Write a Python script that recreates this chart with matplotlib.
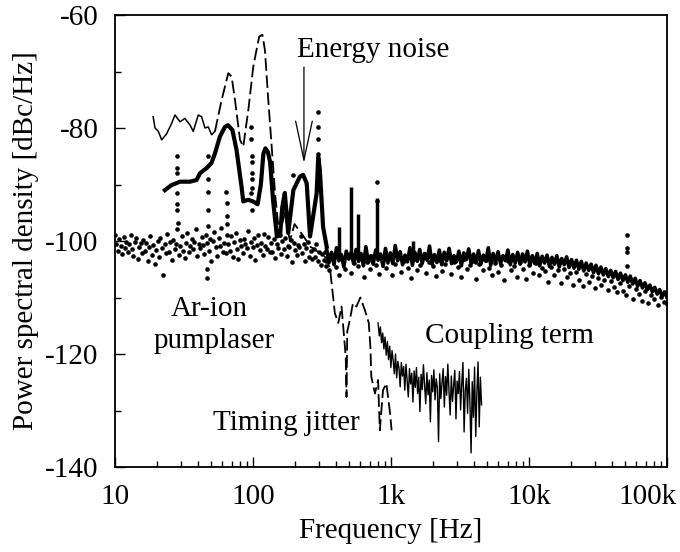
import numpy as np
import matplotlib
matplotlib.use("Agg")
from matplotlib import pyplot as plt
from matplotlib.ticker import FixedLocator, NullFormatter
from matplotlib.transforms import ScaledTranslation

plt.rcParams['font.family'] = ['Liberation Serif', 'DejaVu Serif']
plt.rcParams['axes.unicode_minus'] = False

# timing jitter: thin solid start, then dashed
jit_f_a = [18.9, 19.5, 20.6, 21.8, 23.7, 25.7, 27.2, 29.6, 32.1, 35.0, 36.9, 40.1, 42.4, 44.9, 47.4, 50.1, 53.0]
jit_a = [-78.0, -80.0, -80.6, -82.1, -81.0, -79.2, -77.7, -78.9, -78.3, -79.5, -80.6, -77.7, -78.0, -80.0, -79.8, -81.2, -80.6]
jit_f_b = [53.0, 59.3, 66.2, 70.0, 74.0, 80.5, 85.0, 92.5, 100.5, 106, 111, 117, 122, 129, 136, 145, 155, 170,
           185, 200, 230, 260, 300, 340, 362, 392, 415, 438, 470, 476, 482, 503, 530, 562, 600, 646, 690, 709,
           720, 765, 806, 830, 875, 925, 985, 1010]
jit_b = [-80.6, -75.0, -70.3, -70.9, -75.0, -82.1, -83.3, -76.8, -69.1, -66.2, -63.8, -63.5, -66.2, -75.0, -82.7,
         -92.0, -99.0, -95.0, -100.0, -97.0, -99.0, -101.0, -102.0, -103.0, -105.0, -112.8, -114.5, -111.6, -120.5,
         -127.6, -116.0, -114.0, -111.0, -111.6, -110.0, -112.2, -114.5, -118.7, -124.0, -127.0, -124.6, -133.5,
         -126.4, -125.2, -130.5, -133.5]

# energy noise (thick curve), low frequency part
en_f = [23.0, 25.7, 29.6, 35, 39, 41.3, 46.1, 50, 53, 57.6, 62.6, 66, 71, 76, 82.6, 85, 92, 100, 108, 114, 119,
        123, 128, 133, 140, 149, 157, 163, 170, 180, 196, 219, 231, 245, 259, 289, 297, 305, 322, 342]
en = [-91.0, -90.1, -89.5, -89.5, -89.2, -88.0, -87.1, -86.2, -84.5, -81.5, -79.8, -79.5, -80.4, -83.9, -90.4,
      -93.0, -92.7, -93.0, -93.5, -90.0, -84.5, -83.6, -84.2, -86.0, -93.0, -99.2, -99.0, -94.0, -91.5, -98.6,
      -91.0, -88.6, -88.3, -89.8, -99.2, -91.6, -85.1, -87.4, -97.5, -101.0]

# energy noise, 342 Hz .. 100 kHz band
band = [-101.5, -103.8, -102.0, -104.2, -101.2, -103.5, -102.4, -104.6, -101.8, -103.2,
        -102.0, -104.0, -101.5, -103.6, -102.2, -104.4, -101.0, -103.8, -102.6, -104.1,
        -101.6, -103.4, -102.3, -104.5, -101.3, -103.9, -102.1, -104.0, -100.8, -103.5,
        -101.9, -104.2, -102.5, -103.7, -101.2, -104.3, -102.0, -103.6, -101.5, -104.0,
        -102.2, -103.4, -100.9, -104.1, -102.4, -103.8, -101.6, -104.2, -102.0, -103.5,
        -101.3, -104.0, -102.6, -103.7, -101.8, -104.4, -102.1, -103.3, -101.4, -104.0,
        -102.3, -103.9, -101.7, -104.1, -102.5, -103.6, -101.2, -104.3, -102.2, -103.8,
        -101.9, -104.0, -102.6, -103.5, -101.6, -104.2, -102.4, -103.9, -102.0, -104.1,
        -102.3, -103.7, -101.8, -104.3, -102.6, -104.0, -102.2, -104.4, -102.7, -103.9,
        -102.5, -104.5, -102.9, -104.1, -102.6, -104.6, -103.1, -104.2, -102.8, -104.7,
        -103.3, -104.8, -103.4, -105.0, -103.6, -105.3, -103.9, -105.2, -104.1, -105.6,
        -104.3, -105.8, -104.6, -106.0, -104.9, -106.3, -105.2, -106.5, -105.4, -106.8,
        -105.7, -107.0, -106.0, -107.3, -106.2, -107.6, -106.6, -108.0, -107.0, -108.3,
        -107.4, -108.6, -107.8, -109.0, -108.2, -109.4, -108.6, -109.8, -109.0, -110.0]
band_f = np.geomspace(342, 1e5, len(band))

spike_f = [420, 515, 580, 787, 1450]
spike_top = [-97.5, -90.4, -95.2, -92.4, -100.0]

# coupling term
coup = [-114.5, -116.8, -115.2, -118.0, -116.3, -119.1, -117.0, -120.2, -117.8, -121.0,
        -118.6, -122.4, -119.4, -121.1, -123.5, -120.0, -124.2, -121.3, -122.5, -125.8,
        -121.5, -123.9, -122.2, -126.4, -121.8, -124.7, -127.6, -122.6, -125.3, -123.4,
        -128.5, -123.0, -125.9, -122.4, -127.0, -124.1, -130.2, -123.6, -126.3, -121.9,
        -125.5, -128.8, -123.3, -127.2, -124.6, -132.0, -123.8, -126.7, -122.8, -128.1,
        -124.4, -126.0, -135.5, -123.5, -127.9, -125.1, -122.6, -129.4, -124.0, -127.3,
        -121.8, -126.5, -130.8, -123.9, -128.4, -125.6, -122.9, -131.5, -124.8, -127.0,
        -123.1, -129.9, -125.2, -121.5, -133.8, -126.4, -124.3, -130.5, -122.7, -128.6,
        -137.5, -124.9, -131.2, -122.3, -134.6, -126.8, -121.4, -132.9, -124.1, -129.0]
coup_f = np.geomspace(806, 4530, len(coup))

# Ar-ion pump laser (dots)
dots_lo = [-99.0, -100.5, -101.8, -99.6, -100.9, -102.3, -99.3, -101.2, -100.1, -102.0,
           -100.6, -98.9, -101.5, -102.6, -100.2, -99.5, -103.1, -101.0, -100.4, -102.2,
           -99.8, -101.7, -100.3, -103.5, -101.1, -99.2, -102.4, -100.7, -104.0, -101.6,
           -100.0, -102.8, -99.4, -101.3, -106.0, -100.6, -102.1, -98.7, -101.9, -100.2,
           -103.3, -99.9, -101.4, -100.5, -97.8, -102.5, -100.8, -99.1, -101.7, -103.0,
           -100.3, -98.5, -102.0, -100.9, -99.6, -101.5, -100.1, -97.9, -102.7, -100.6,
           -101.2, -99.3, -100.7, -102.3, -98.9, -100.4, -101.8, -99.7, -103.6, -100.0,
           -98.4, -101.1, -102.6, -99.5, -100.8, -97.7, -101.9, -100.3, -102.2, -99.0,
           -100.6, -101.7, -99.2, -102.9, -100.1, -98.6, -101.4, -103.2, -99.8, -100.9,
           -102.1, -99.6, -100.5, -101.3, -98.3, -102.6, -100.2, -101.0, -99.4, -103.4,
           -100.7, -99.0, -101.6, -100.3, -102.4, -98.8, -100.9, -101.5, -99.3, -102.0,
           -100.4, -101.9, -99.7, -103.0, -100.6, -101.2, -98.9, -102.3, -100.0, -101.4,
           -99.5, -102.7, -100.8, -101.1, -99.9, -103.8, -100.3, -101.6, -102.5, -100.7,
           -101.0, -99.2, -102.2, -100.5, -103.5, -101.3, -100.1, -102.8, -101.7, -103.1,
           -101.4, -102.9, -100.6, -103.6, -101.9, -104.2, -102.3, -103.4, -102.0, -104.5]
dots_lo_f = np.geomspace(10, 340, len(dots_lo))

dots_hi = [-103.5, -105.2, -102.8, -104.6, -106.0, -103.1, -104.9, -102.5, -105.6, -103.9,
           -104.4, -102.9, -106.3, -103.7, -105.0, -102.6, -104.2, -105.8, -103.3, -104.7,
           -103.0, -106.1, -104.0, -102.7, -105.4, -103.6, -104.8, -106.6, -103.2, -105.1,
           -104.3, -102.9, -105.7, -103.8, -104.5, -106.2, -103.4, -105.3, -104.1, -102.8,
           -105.9, -103.7, -104.6, -106.4, -103.1, -105.0, -104.2, -103.5, -106.8, -104.0,
           -105.2, -103.3, -104.7, -106.0, -103.9, -105.5, -104.3, -106.9, -103.6, -105.1,
           -104.5, -106.3, -103.8, -105.0, -106.7, -104.2, -105.6, -103.9, -106.1, -104.8,
           -105.3, -107.2, -104.6, -106.0, -105.1, -107.5, -104.9, -106.4, -105.7, -107.8,
           -105.5, -106.9, -108.0, -105.9, -107.3, -106.2, -108.4, -106.6, -107.7, -106.9,
           -108.6, -107.1, -108.2, -109.0, -107.5, -108.8, -109.5, -107.9, -110.2, -108.5,
           -109.3, -110.6, -108.9, -111.0, -109.6, -110.3, -111.4, -109.9, -110.8, -111.2]
dots_hi_f = np.geomspace(340, 1e5, len(dots_hi))

col_f = [28, 28, 28, 28.2, 28.2, 28, 28.5,
         47, 47, 47.4, 47.4, 47, 46.5, 46.5,
         64, 64.4, 64.4, 65,
         97, 97.5, 97.8, 98, 98, 97.8, 98.2, 97.5, 98,
         196, 297, 297, 298, 298, 299, 299,
         787, 787, 51000, 51000, 51000, 51000]
col_v = [-85.0, -87.1, -88.0, -91.5, -93.5, -94.6, -96.8,
         -85.0, -89.0, -91.3, -94.5, -97.3, -105.0, -106.6,
         -91.3, -93.3, -95.5, -97.0,
         -79.8, -82.0, -85.0, -86.0, -88.0, -89.0, -90.6, -91.5, -94.5,
         -88.4, -77.1, -79.8, -82.0, -84.6, -88.0, -91.0,
         -89.5, -93.0, -98.9, -101.3, -102.0, -104.5]

xticks = [10, 100, 1e3, 1e4, 1e5]
xlabels = ['10', '100', '1k', '10k', '100k']
yticks = [-140, -120, -100, -80, -60]

fig = plt.figure(figsize=(6.8, 5.52), dpi=100)
ax = fig.add_axes([115 / 680, 85 / 552, 552 / 680, 452 / 552])

ax.plot(jit_f_a, jit_a, '-', color='k', lw=1.1)
ax.plot(jit_f_b, jit_b, color='k', lw=1.3, linestyle=(0, (7, 2.5)))
ax.plot(en_f, en, '-', color='k', lw=3.0)
ax.plot(band_f, band, '-', color='k', lw=2.6)
ax.vlines(spike_f, -103, spike_top, color='k', lw=2.5)
ax.plot(coup_f, coup, '-', color='k', lw=1.0)
ax.plot(dots_lo_f, dots_lo, 'o', color='k', ms=3.3, mew=0)
ax.plot(dots_hi_f, dots_hi, 'o', color='k', ms=3.3, mew=0)
ax.plot(col_f, col_v, 'o', color='k', ms=3.3, mew=0)

ax.set_xscale('log')
ax.set_xlim(10, 1e5)
ax.set_ylim(-140, -60)
ax.xaxis.set_major_locator(FixedLocator(xticks))
ax.set_xticklabels(xlabels)
ax.xaxis.set_minor_formatter(NullFormatter())
ax.set_yticks(yticks)
ax.set_yticklabels([str(v) for v in yticks])
ax.set_yticks([-130, -110, -90, -70], minor=True)
ax.tick_params(which='major', direction='in', length=7, width=1, labelsize=21)
ax.tick_params(which='minor', direction='in', length=4, width=1)
ax.tick_params(axis='x', which='both', pad=12)
ax.tick_params(axis='y', which='both', pad=12)
for s in ax.spines.values():
    s.set_linewidth(1.3)

# last x label sits against the right edge in the original
last = ax.get_xticklabels()[-1]
last.set_transform(last.get_transform() + ScaledTranslation(-14 / 72, 0, fig.dpi_scale_trans))

ax.set_xlabel('Frequency [Hz]', fontsize=21, labelpad=6)
ax.set_ylabel('Power spectral density [dBc/Hz]', fontsize=21, labelpad=4)

ax.text(208, -67.4, 'Energy noise', fontsize=21, va='baseline', ha='left')
ax.text(48, -113.3, 'Ar-ion', fontsize=21, va='baseline', ha='center')
ax.text(52, -118.9, 'pumplaser', fontsize=21, va='baseline', ha='center')
ax.text(1762, -118.05, 'Coupling term', fontsize=21, va='baseline', ha='left')
ax.text(596, -133.45, 'Timing jitter', fontsize=21, va='baseline', ha='right')
ax.annotate('', xy=(234, -86.2), xytext=(234, -69.2),
            arrowprops=dict(arrowstyle='->,head_length=1.4,head_width=0.3', lw=0.9, color='k',
                            mutation_scale=20, shrinkA=0, shrinkB=0))

fig.savefig('out.png', dpi=100)
